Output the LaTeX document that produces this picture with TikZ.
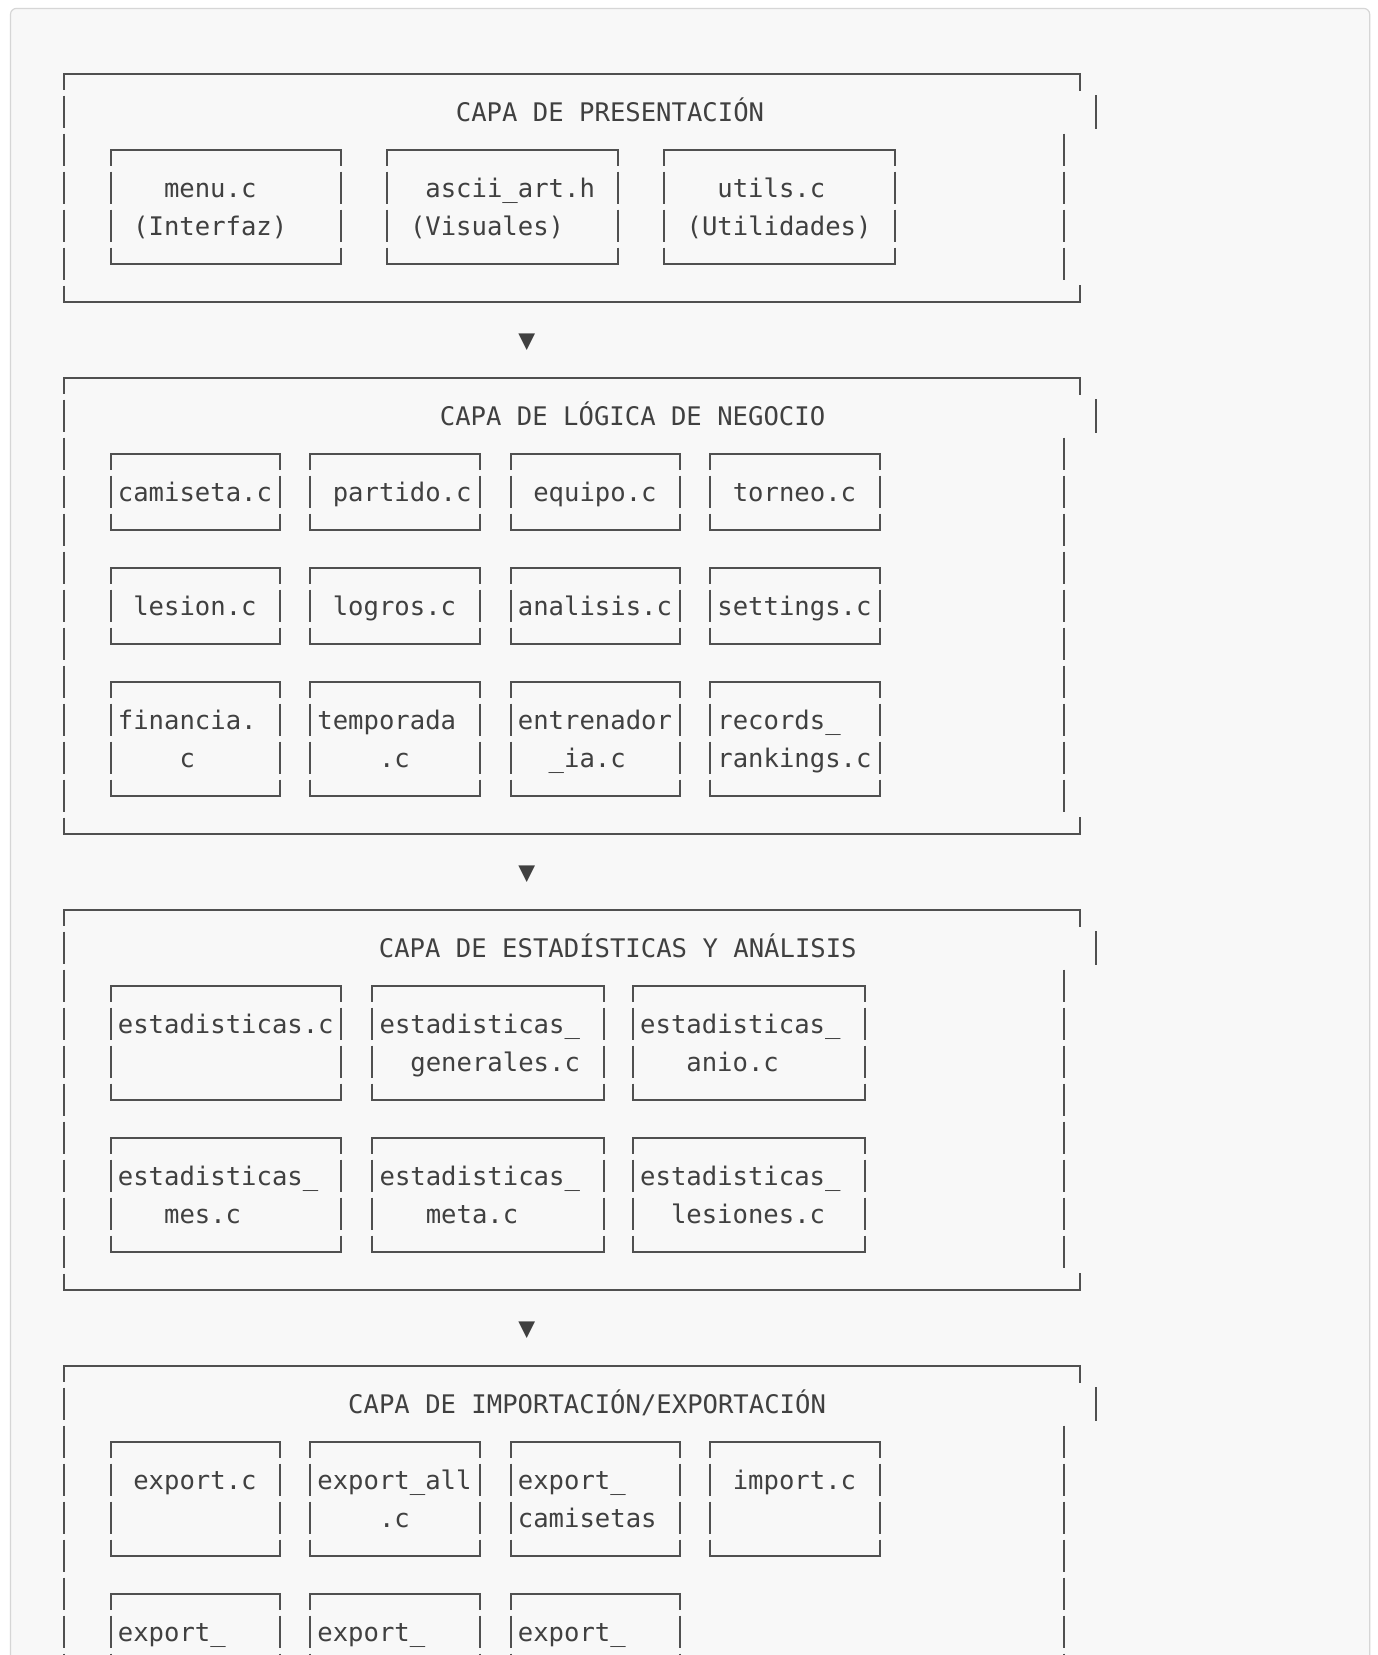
\documentclass[tikz,border=0pt]{standalone}
\usepackage{fontspec}
\setmonofont{DejaVu Sans Mono}

\definecolor{panelbg}{HTML}{F8F8F8}
\definecolor{panelrim}{HTML}{D6D6D6}
\definecolor{ink}{HTML}{404040}
\definecolor{rule}{HTML}{505050}

% row k of the text grid, in px (y grows downwards)
\newcommand{\rowy}[1]{(74+38*(#1))}

% closed module box: name, left x, right x, top row, bottom row
\newcommand{\modbox}[5]{%
  \coordinate (#1-nw) at (#2,{\rowy{#4}});
  \coordinate (#1-se) at (#3,{\rowy{#5}});
  \draw[hline] (#1-nw) -- (#1-nw -| #1-se);
  \draw[hline] (#1-se -| #1-nw) -- (#1-se);
  \draw[vbar] (#1-nw) -- (#1-se -| #1-nw);
  \draw[vbar] (#1-nw -| #1-se) -- (#1-se);
}
% module box running off the page
\newcommand{\openbox}[4]{%
  \coordinate (#1-nw) at (#2,{\rowy{#4}});
  \coordinate (#1-ne) at (#3,{\rowy{#4}});
  \draw[hline] (#1-nw) -- (#1-ne);
  \draw[vbar] (#1-nw) -- (#2,1700);
  \draw[vbar] (#1-ne) -- (#3,1700);
}
% layer frame: name, top row, bottom row
\newcommand{\layer}[3]{%
  \coordinate (#1-nw) at (64,{\rowy{#2}});
  \coordinate (#1-se) at (1080,{\rowy{#3}});
  \draw[hline] (#1-nw) -- (#1-nw -| #1-se) -- ([yshift=-8.15pt]#1-nw -| #1-se);
  \draw[hline] ([yshift=8.15pt]#1-se) -- (#1-se) -- (#1-se -| #1-nw);
  \draw[vbar] (#1-nw) -- (#1-se -| #1-nw);
  \draw[hline] (1096,{\rowy{#2+1}-16.3}) -- (1096,{\rowy{#2+1}+16.3});
  \draw[vbar, dash phase=0pt] (1064,{\rowy{#2+2}-16.3}) -- (1064,{\rowy{#3-1}+16.3});
}
\newcommand{\ftext}[4]{\node[txt] (#1) at (#2,{\rowy{#3}+9.5}) {#4};}

\begin{document}
\begin{tikzpicture}[x=0.5pt, y=-0.5pt,
  txt/.style={font=\ttfamily\fontsize{12.8}{15}\selectfont, text=ink, inner sep=0pt, anchor=base west},
  hline/.style={draw=rule, line width=0.9pt, line cap=rect},
  vbar/.style={draw=rule, line width=0.9pt, dash pattern=on 16.3pt off 2.7pt, dash phase=8.15pt},
  panel/.style={fill=panelbg, draw=panelrim, line width=0.6pt, rounded corners=3pt},
  down/.style={font=\ttfamily\fontsize{14}{15}\selectfont, text=ink, inner sep=0pt}]
\useasboundingbox (0,0) rectangle (1377,1655);
\fill[white] (0,0) rectangle (1377,1655);
\draw[panel] (10.5,8.4) rectangle (1369.7,1720);

% presentacion
\layer{pres}{0}{6}
\modbox{menu}{111}{341}{2}{5}
\modbox{ascii}{387}{618}{2}{5}
\modbox{utils}{664}{895}{2}{5}
\ftext{pres-t}{455.5}{1}{CAPA DE PRESENTACIÓN}
\ftext{menu-a}{163.6}{3}{menu.c}
\ftext{menu-b}{132.8}{4}{(Interfaz)}
\ftext{ascii-a}{425}{3}{ascii\_art.h}
\ftext{ascii-b}{409.6}{4}{(Visuales)}
\ftext{utils-a}{717}{3}{utils.c}
\ftext{utils-b}{686.2}{4}{(Utilidades)}
\node[down] (arr1) at (526.8,{\rowy{7}+2}) {▼};

% logica de negocio
\layer{logic}{8}{20}
\foreach \nm/\xa/\xb in {a/111/280, b/310/480, c/511/680, d/710/880}{
  \modbox{l1\nm}{\xa}{\xb}{10}{12}
  \modbox{l2\nm}{\xa}{\xb}{13}{15}
  \modbox{l3\nm}{\xa}{\xb}{16}{19}
}
\ftext{logic-t}{439.5}{9}{CAPA DE LÓGICA DE NEGOCIO}
\ftext{camiseta}{117.5}{11}{camiseta.c}
\ftext{partido}{332.4}{11}{partido.c}
\ftext{equipo}{532.9}{11}{equipo.c}
\ftext{torneo}{732.4}{11}{torneo.c}
\ftext{lesion}{132.9}{14}{lesion.c}
\ftext{logros}{332.4}{14}{logros.c}
\ftext{analisis}{517.5}{14}{analisis.c}
\ftext{settings}{717}{14}{settings.c}
\ftext{financia-a}{117.5}{17}{financia.}
\ftext{financia-b}{179.1}{18}{c}
\ftext{temporada-a}{317}{17}{temporada}
\ftext{temporada-b}{378.6}{18}{.c}
\ftext{entrenador-a}{517.5}{17}{entrenador}
\ftext{entrenador-b}{548.3}{18}{\_ia.c}
\ftext{records-a}{717}{17}{records\_}
\ftext{records-b}{717}{18}{rankings.c}
\node[down] (arr2) at (526.8,{\rowy{21}+2}) {▼};

% estadisticas
\layer{stats}{22}{32}
\foreach \nm/\xa/\xb in {a/111/341, b/372/604, c/633/865}{
  \modbox{s1\nm}{\xa}{\xb}{24}{27}
  \modbox{s2\nm}{\xa}{\xb}{28}{31}
}
\ftext{stats-t}{378.5}{23}{CAPA DE ESTADÍSTICAS Y ANÁLISIS}
\ftext{est}{117.5}{25}{estadisticas.c}
\ftext{gen-a}{379.2}{25}{estadisticas\_}
\ftext{gen-b}{410}{26}{generales.c}
\ftext{anio-a}{639.8}{25}{estadisticas\_}
\ftext{anio-b}{686}{26}{anio.c}
\ftext{mes-a}{117.5}{29}{estadisticas\_}
\ftext{mes-b}{163.7}{30}{mes.c}
\ftext{meta-a}{379.2}{29}{estadisticas\_}
\ftext{meta-b}{425.4}{30}{meta.c}
\ftext{les-a}{639.8}{29}{estadisticas\_}
\ftext{les-b}{670.6}{30}{lesiones.c}
\node[down] (arr3) at (526.8,{\rowy{33}+2}) {▼};

% importacion / exportacion (runs off the page)
\coordinate (io-nw) at (64,{\rowy{34}});
\coordinate (io-ne) at (1080,{\rowy{34}});
\draw[hline] (io-nw) -- (io-ne) -- ([yshift=-8.15pt]io-ne);
\draw[vbar] (io-nw) -- (64,1700);
\draw[hline] (1096,{\rowy{35}-16.3}) -- (1096,{\rowy{35}+16.3});
\draw[vbar, dash phase=0pt] (1064,{\rowy{36}-16.3}) -- (1064,1700);
\foreach \nm/\xa/\xb in {a/111/280, b/310/480, c/511/680, d/710/880}{
  \modbox{i1\nm}{\xa}{\xb}{36}{39}
}
\foreach \nm/\xa/\xb in {a/111/280, b/310/480, c/511/680}{
  \openbox{i2\nm}{\xa}{\xb}{40}
}
\ftext{io-t}{347.8}{35}{CAPA DE IMPORTACIÓN/EXPORTACIÓN}
\ftext{export}{132.9}{37}{export.c}
\ftext{all-a}{317}{37}{export\_all}
\ftext{all-b}{378.6}{38}{.c}
\ftext{cam-a}{517.5}{37}{export\_}
\ftext{cam-b}{517.5}{38}{camisetas}
\ftext{import}{732.4}{37}{import.c}
\ftext{x1}{117.5}{41}{export\_}
\ftext{x2}{317}{41}{export\_}
\ftext{x3}{517.5}{41}{export\_}
\end{tikzpicture}
\end{document}
